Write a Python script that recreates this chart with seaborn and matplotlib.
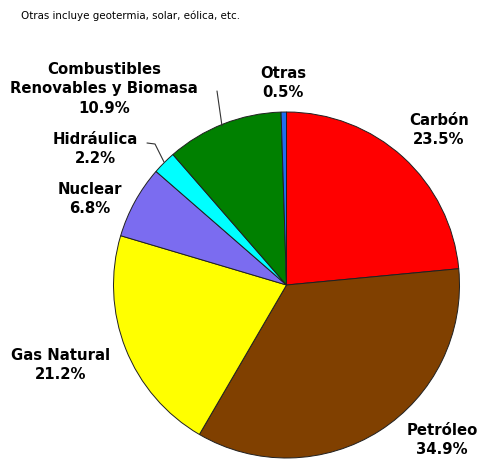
import matplotlib
matplotlib.use("Agg")
import matplotlib.pyplot as plt
import seaborn as sns

# World primary energy supply shares (%)
fuentes = ["Carbón", "Petróleo", "Gas Natural", "Nuclear", "Hidráulica",
           "Combustibles\nRenovables y Biomasa", "Otras"]
porcentajes = [23.5, 34.9, 21.2, 6.8, 2.2, 10.9, 0.5]
colores = ["#FF0000", "#804000", "#FFFF00", "#7B6CF0", "#00FFFF", "#008000", "#1E6CF0"]
nota = "Otras incluye geotermia, solar, eólica, etc."

sns.set_theme(style="white")
plt.rcParams["font.family"] = ["DejaVu Sans"]

W, H = 478, 460
fig = plt.figure(figsize=(W / 100, H / 100), dpi=100)
ax = fig.add_axes([0, 0, 1, 1])

# pie in pixel-like coordinates (y measured from bottom)
cx, cy, r = 286.5, H - 286, 173
ax.pie(porcentajes, colors=colores, startangle=90, counterclock=False,
       center=(cx, cy), radius=r, frame=True,
       wedgeprops=dict(edgecolor="#202020", linewidth=0.7))
ax.set_xlim(0, W)
ax.set_ylim(0, H)
ax.set_aspect("equal")
ax.axis("off")

# label anchor positions (x, y-from-top)
pos = {
    "Carbón": (439, 130),
    "Petróleo": (442, 440),
    "Gas Natural": (61, 365),
    "Nuclear": (90, 199),
    "Hidráulica": (95, 149),
    "Combustibles\nRenovables y Biomasa": (104, 89),
    "Otras": (283, 83),
}
for f, p in zip(fuentes, porcentajes):
    x, y = pos[f]
    ax.text(x, H - y, f"{f}\n{p:.1f}%", ha="center", va="center",
            fontsize=10.7, fontweight="bold", color="black", linespacing=1.4)

# leader lines
ax.plot([217, 222], [H - 92, H - 127], color="#333333", lw=0.8)
ax.plot([147, 155, 164], [H - 144, H - 145, H - 163], color="#333333", lw=0.8)

fig.text(21 / W, 1 - 16 / H, nota, ha="left", va="center",
         fontsize=7.4, color="black")

fig.savefig("out.png", dpi=100, facecolor="white")
